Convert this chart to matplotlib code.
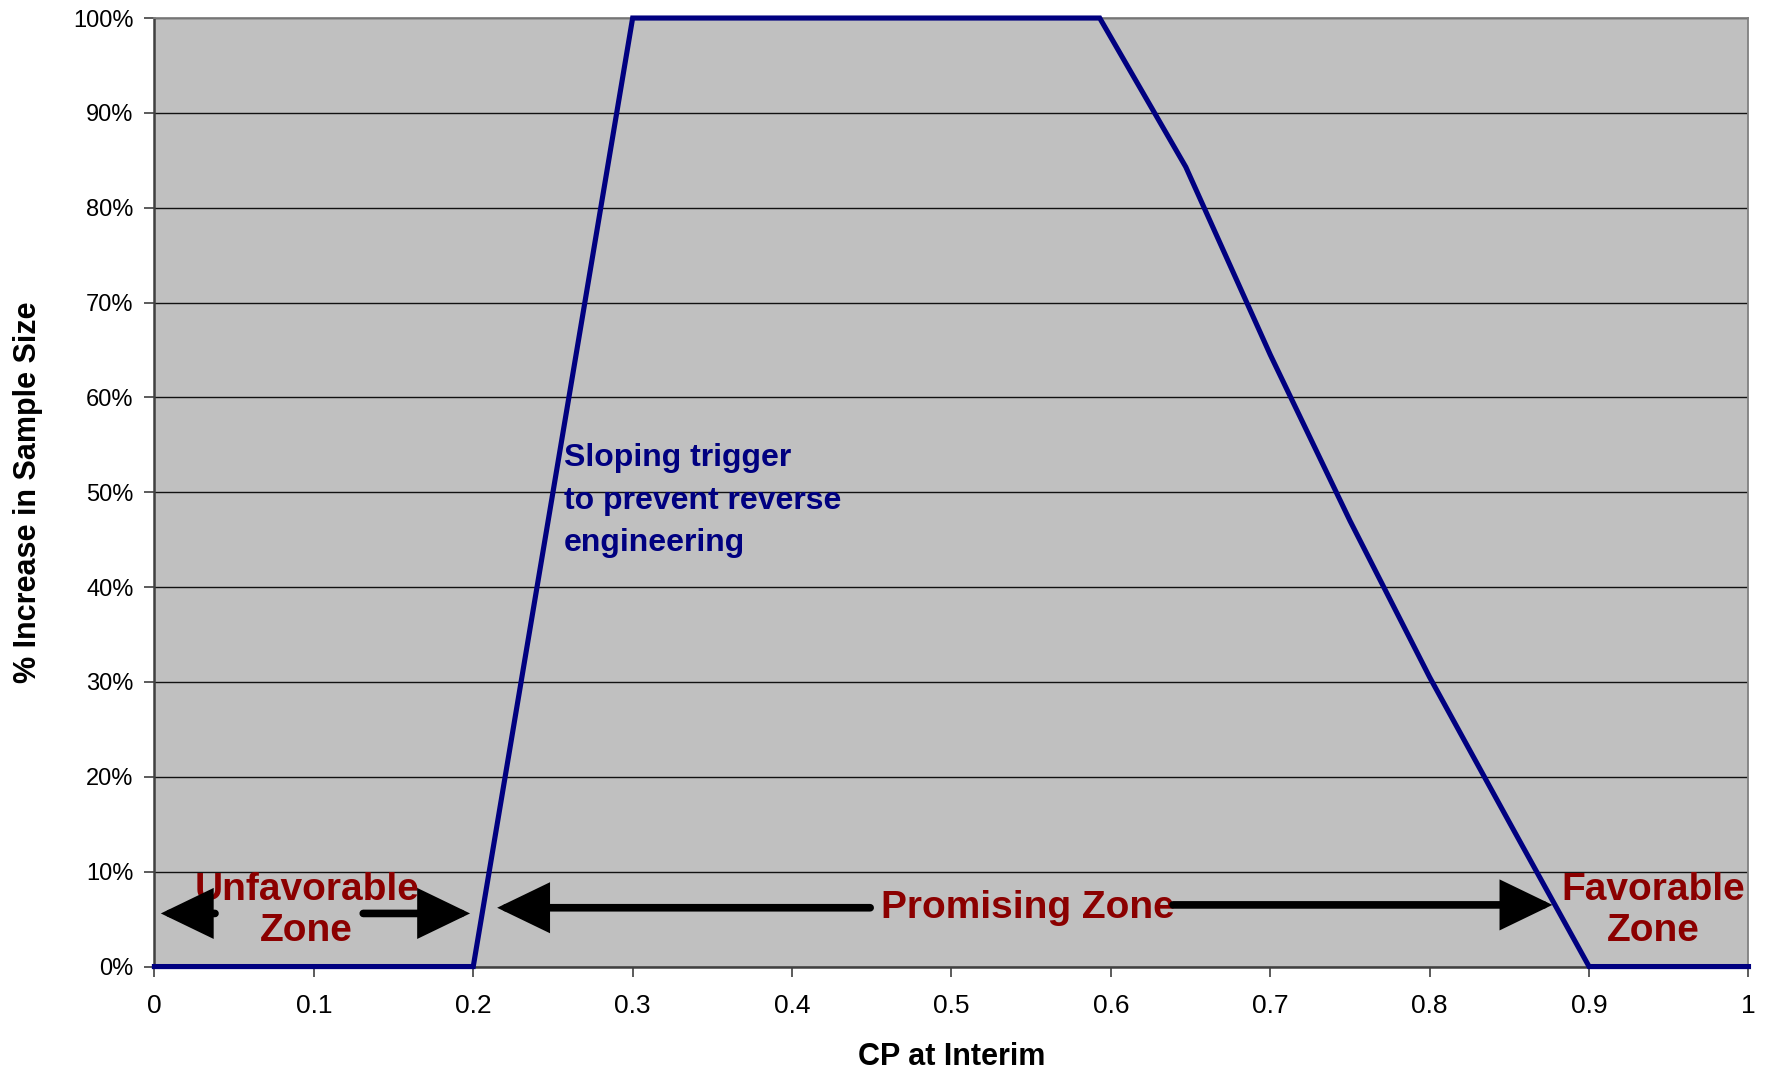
import matplotlib
matplotlib.use("Agg")
import matplotlib.pyplot as plt
from matplotlib.ticker import FuncFormatter, FixedLocator
from matplotlib import font_manager

# ---- data ----
cp_interim = [0.0, 0.2, 0.3, 0.593, 0.647, 0.7, 0.75, 0.8, 0.85, 0.9, 1.0]
pct_increase = [0.0, 0.0, 1.0, 1.0, 0.843, 0.645, 0.47, 0.305, 0.152, 0.0, 0.0]
x_ticks = [0, 0.1, 0.2, 0.3, 0.4, 0.5, 0.6, 0.7, 0.8, 0.9, 1.0]
x_tick_labels = ["0", "0.1", "0.2", "0.3", "0.4", "0.5", "0.6", "0.7", "0.8", "0.9", "1"]
y_ticks = [0, 0.1, 0.2, 0.3, 0.4, 0.5, 0.6, 0.7, 0.8, 0.9, 1.0]

names = {f.name for f in font_manager.fontManager.ttflist}
NARROW = ["Liberation Sans Narrow", "Liberation Sans", "DejaVu Sans"] if "Liberation Sans Narrow" in names else ["Liberation Sans", "DejaVu Sans"]
WIDE = ["Liberation Sans", "DejaVu Sans"]

fig = plt.figure(figsize=(17.69, 10.73), dpi=100)
ax = fig.add_axes([0.0873, 0.0992, 0.9011, 0.884])
ax.set_facecolor("#C0C0C0")

ax.set_xlim(0, 1)
ax.set_ylim(0, 1)
ax.yaxis.set_major_locator(FixedLocator(y_ticks))
ax.xaxis.set_major_locator(FixedLocator(x_ticks))
ax.set_xticklabels(x_tick_labels, fontfamily=NARROW, fontsize=19)
ax.yaxis.set_major_formatter(FuncFormatter(lambda v, p: f"{v*100:.0f}%"))
for lab in ax.get_yticklabels():
    lab.set_fontfamily(WIDE)
ax.tick_params(axis="y", direction="out", length=7, width=1.2, color="#404040", pad=8, labelsize=17)
ax.tick_params(axis="x", direction="out", length=7, width=1.2, color="#404040", pad=13)

ax.grid(axis="y", color="#111111", linewidth=1.0, zorder=1)
ax.set_axisbelow(True)

for side in ["left", "bottom"]:
    ax.spines[side].set_color("#404040")
    ax.spines[side].set_linewidth(1.8)
for side in ["top", "right"]:
    ax.spines[side].set_color("#808080")
    ax.spines[side].set_linewidth(1.3)

ax.plot(cp_interim, pct_increase, color="#000080", linewidth=3.7, zorder=5,
        clip_on=False, solid_joinstyle="miter")

ax.set_xlabel("CP at Interim", fontfamily=NARROW, fontsize=22, fontweight="bold", labelpad=17)
ax.set_ylabel("% Increase in Sample Size", fontfamily=WIDE, fontsize=22, fontweight="bold", va="center")
ax.yaxis.set_label_coords(-0.0794, 0.5)

ax.text(0.257, 0.491, "Sloping trigger\nto prevent reverse\nengineering", color="#000080",
        fontfamily=WIDE, fontsize=23, fontweight="bold", ha="left", va="center", linespacing=1.55, zorder=6)

zone_color = "#8B0000"
ax.text(0.0955, 0.059, "Unfavorable\nZone", color=zone_color, fontfamily=NARROW, fontsize=28,
        fontweight="bold", ha="center", va="center", linespacing=1.2, zorder=6)
ax.text(0.9405, 0.059, "Favorable\nZone", color=zone_color, fontfamily=NARROW, fontsize=28,
        fontweight="bold", ha="center", va="center", linespacing=1.2, zorder=6)
ax.text(0.548, 0.062, "Promising Zone", color=zone_color, fontfamily=NARROW, fontsize=28,
        fontweight="bold", ha="center", va="center", zorder=6)

arrow_style = "-|>,head_length=2.9,head_width=1.4"
def arrow(tail, tip):
    ax.annotate("", xy=tip, xytext=tail, xycoords="data", textcoords="data",
                arrowprops=dict(arrowstyle=arrow_style, color="black", lw=5.5,
                                mutation_scale=10, shrinkA=0, shrinkB=0, joinstyle="miter"),
                zorder=6)

arrow((0.038, 0.056), (0.004, 0.056))
arrow((0.131, 0.056), (0.198, 0.056))
arrow((0.449, 0.062), (0.215, 0.062))
arrow((0.639, 0.065), (0.877, 0.065))

fig.savefig("out.png", dpi=100)
